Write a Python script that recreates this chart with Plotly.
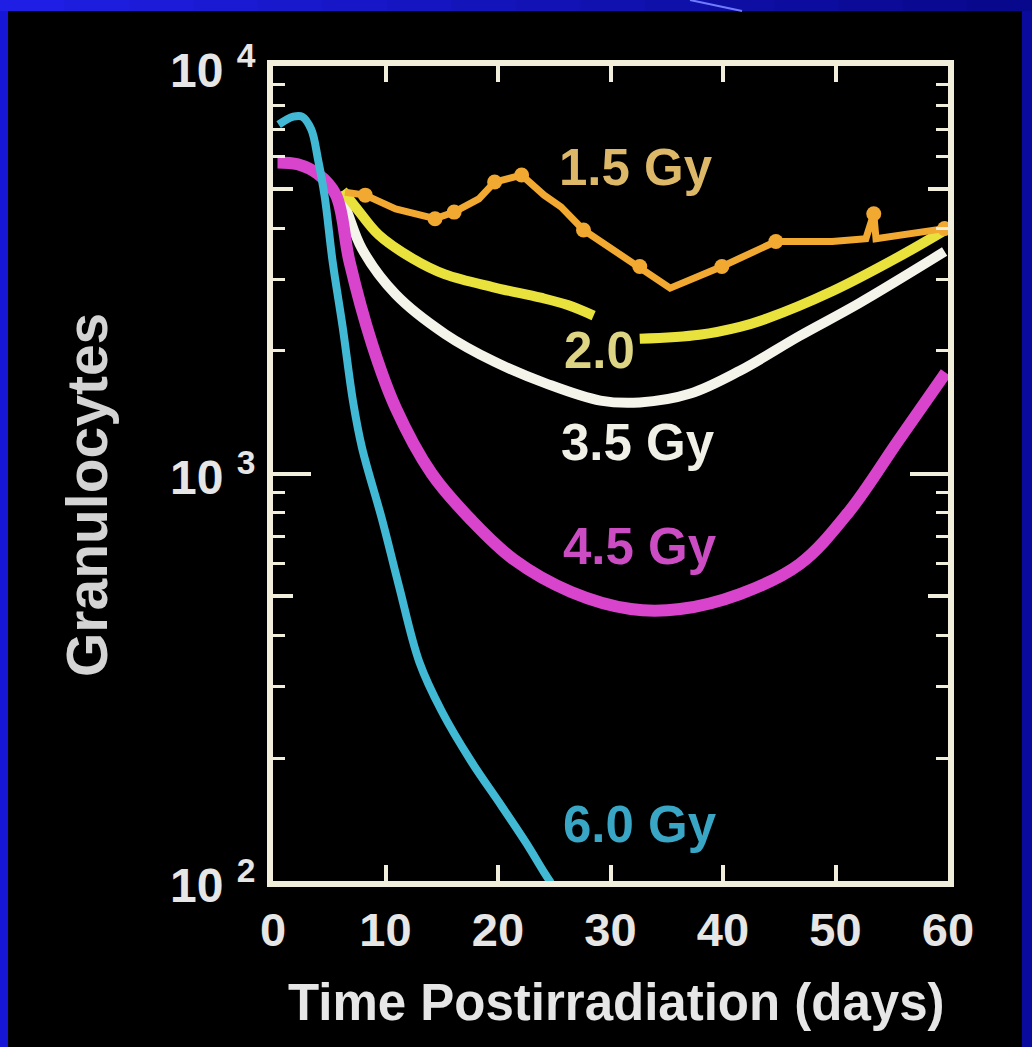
import math
import plotly.graph_objects as go

# ---------------- data ----------------
days_15 = [6.4, 8.2, 10.9, 13.2, 14.4, 16.1, 18.3, 19.7, 22.1, 24.1, 25.6, 27.6,
           32.6, 35.3, 39.9, 44.7, 49.7, 52.7, 53.4, 53.6, 59.7]
vals_15 = [4900, 4820, 4460, 4310, 4220, 4380, 4720, 5190, 5400, 4820, 4510, 3960,
           3220, 2850, 3220, 3710, 3710, 3770, 4340, 3770, 3990]
mark_days_15 = [8.2, 14.4, 16.1, 19.7, 22.1, 27.6, 32.6, 39.9, 44.7, 53.4, 59.7]
mark_vals_15 = [4820, 4220, 4380, 5190, 5400, 3960, 3220, 3220, 3710, 4340, 3990]

days_20a = [6.2, 7.5, 9.4, 12.4, 15.3, 19.7, 23.8, 26.2, 28.5]
vals_20a = [4950, 4450, 3850, 3370, 3080, 2860, 2700, 2590, 2440]
days_20b = [32.6, 37.9, 41.5, 43.9, 49.7, 55.6, 59.7]
vals_20b = [2140, 2190, 2290, 2400, 2800, 3400, 3950]

days_35 = [5.9, 6.6, 7.9, 10.9, 15.3, 19.7, 24.3, 29.1, 32.6, 37.1, 41.5, 46.8, 52.1, 59.7]
vals_35 = [4900, 4385, 3563, 2753, 2199, 1880, 1662, 1510, 1494, 1571, 1787, 2175, 2617, 3504]

days_45 = [0.4, 2.2, 4.0, 5.6, 6.8, 8.8, 10.9, 14.1, 17.6, 21.4, 26.5, 31.8, 36.2,
           41.5, 46.8, 51.2, 55.6, 59.8]
vals_45 = [5800, 5740, 5430, 4820, 3310, 2080, 1450, 1000, 770, 615, 512, 465, 465,
           506, 599, 806, 1206, 1767]

days_60 = [0.5, 1.8, 2.6, 3.4, 4.0, 4.6, 5.3, 6.2, 7.1, 7.9, 9.7, 11.2, 13.0, 15.0,
           17.6, 20.3, 22.5, 24.1, 24.7]
vals_60 = [7180, 7510, 7510, 6990, 5900, 4770, 3310, 2280, 1510, 1160, 770, 529, 345,
           261, 197, 153, 124, 105, 99]

label_texts = ["1.5 Gy", "2.0", "3.5 Gy", "4.5 Gy", "6.0 Gy"]
label_days = [32.3, 29.0, 32.4, 32.6, 32.6]
label_vals = [5640, 2000, 1190, 662, 138]

x_ticks = [0, 10, 20, 30, 40, 50, 60]
y_decades = [100, 1000, 10000]
y_decade_text = ["10 <sup>2</sup>", "10 <sup>3</sup>", "10 <sup>4</sup>"]
y_half = [500, 5000]
y_minor = [200, 300, 400, 600, 700, 800, 900, 2000, 3000, 4000, 6000, 7000, 8000, 9000]

# ---------------- styling ----------------
W, H = 1032, 1047
L, R, T, B = 273, 84, 66, 166
PW, PH = W - L - R, H - T - B


def pxx(x):
    return (x - L) / PW


def pxy(y):
    return (H - B - y) / PH


FRAME = "#f1eedb"
TXT = "#e6e6e6"
SANS = "Liberation Sans, Arial, sans-serif"

C15, C20, C35, C45, C60 = "#f2a932", "#e9e23c", "#f5f4ea", "#d844cc", "#41b8d4"
label_colors = ["#dcb868", "#ddd484", "#f0f0e6", "#cc4cc4", "#3aa6c6"]

fig = go.Figure()
fig.add_trace(go.Scatter(x=days_35, y=vals_35, mode="lines",
                         line=dict(color=C35, width=10, shape="spline", smoothing=1.0)))
fig.add_trace(go.Scatter(x=days_20a, y=vals_20a, mode="lines",
                         line=dict(color=C20, width=10, shape="spline", smoothing=1.0)))
fig.add_trace(go.Scatter(x=days_20b, y=vals_20b, mode="lines",
                         line=dict(color=C20, width=10, shape="spline", smoothing=1.0)))
fig.add_trace(go.Scatter(x=days_15, y=vals_15, mode="lines",
                         line=dict(color=C15, width=7)))
fig.add_trace(go.Scatter(x=mark_days_15, y=mark_vals_15, mode="markers",
                         marker=dict(color=C15, size=15)))
fig.add_trace(go.Scatter(x=days_45, y=vals_45, mode="lines",
                         line=dict(color=C45, width=12, shape="spline", smoothing=1.0)))
fig.add_trace(go.Scatter(x=days_60, y=vals_60, mode="lines",
                         line=dict(color=C60, width=8, shape="spline", smoothing=1.0)))
# helper trace so the overlay axis carrying the 5x ticks is drawn
fig.add_trace(go.Scatter(x=[None], y=[None], yaxis="y2", mode="lines", hoverinfo="skip"))

# curve labels (log axis: annotation y is given in log10 units)
for t, d, v, c in zip(label_texts, label_days, label_vals, label_colors):
    fig.add_annotation(x=d, y=math.log10(v), xref="x", yref="y", text=t,
                       showarrow=False,
                       font=dict(family=SANS, size=51, color=c, weight="bold"),
                       xanchor="center", yanchor="middle")

# axis titles
fig.add_annotation(xref="paper", yref="paper", x=pxx(616), y=pxy(1002),
                   text="Time Postirradiation (days)", showarrow=False,
                   font=dict(family=SANS, size=51, color=TXT, weight="bold"),
                   xanchor="center", yanchor="middle")
fig.add_annotation(xref="paper", yref="paper", x=pxx(87), y=pxy(495),
                   text="Granulocytes", showarrow=False, textangle=-90,
                   font=dict(family=SANS, size=57, color="#d4d4d4", weight="bold"),
                   xanchor="center", yanchor="middle")

# background: blue slide frame with black panel
shapes = [dict(type="rect", xref="paper", yref="paper", layer="below",
               x0=pxx(0), x1=pxx(8), y0=pxy(H), y1=pxy(0),
               fillcolor="#1616d6", line=dict(width=0)),
          dict(type="rect", xref="paper", yref="paper", layer="below",
               x0=pxx(1022), x1=pxx(W), y0=pxy(H), y1=pxy(0),
               fillcolor="#0a0a9c", line=dict(width=0))]
n = 16
c0 = (30, 30, 228)
c1 = (8, 8, 140)
for i in range(n):
    f = i / (n - 1)
    col = "rgb(%d,%d,%d)" % tuple(round(a + (b - a) * f) for a, b in zip(c0, c1))
    shapes.append(dict(type="rect", xref="paper", yref="paper", layer="below",
                       x0=pxx(W * i / n), x1=pxx(W * (i + 1) / n + 1),
                       y0=pxy(11), y1=pxy(0), fillcolor=col, line=dict(width=0)))
shapes.append(dict(type="rect", xref="paper", yref="paper", layer="below",
                   x0=pxx(8), x1=pxx(1022), y0=pxy(H), y1=pxy(11),
                   fillcolor="#000000", line=dict(width=0)))
shapes.append(dict(type="line", xref="paper", yref="paper", layer="below",
                   x0=pxx(690), y0=pxy(0), x1=pxx(742), y1=pxy(11),
                   line=dict(color="#6f7cff", width=2)))

fig.update_layout(
    width=W, height=H,
    margin=dict(l=L, r=R, t=T, b=B, pad=0),
    paper_bgcolor="#0c0cb4", plot_bgcolor="#000000",
    showlegend=False, shapes=shapes,
    xaxis=dict(range=[0, 60], tickvals=x_ticks, ticks="inside", ticklen=16,
               tickwidth=4, tickcolor=FRAME, showline=True, linewidth=6,
               linecolor=FRAME, mirror="ticks", showgrid=False, zeroline=False,
               ticklabelstandoff=3,
               tickfont=dict(family=SANS, size=47, color=TXT, weight="bold")),
    yaxis=dict(type="log", range=[2, 4], tickvals=y_decades, ticktext=y_decade_text,
               ticks="inside", ticklen=38, tickwidth=4, tickcolor=FRAME,
               showline=True, linewidth=6, linecolor=FRAME, mirror="ticks",
               showgrid=False, zeroline=False, ticklabelstandoff=2,
               ticklabelshift=4,
               tickfont=dict(family=SANS, size=48, color=TXT, weight="bold"),
               minor=dict(tickvals=y_minor, ticks="inside", ticklen=12,
                          tickwidth=3, tickcolor=FRAME, showgrid=False)),
    yaxis2=dict(type="log", range=[2, 4], overlaying="y", side="left",
                tickvals=y_half, ticks="inside", ticklen=20, tickwidth=4,
                tickcolor=FRAME, mirror="ticks", showline=False,
                showticklabels=False, showgrid=False, zeroline=False),
)

fig.write_html("out.html", config={"displayModeBar": False},
               post_script="document.body.style.margin='0';")
